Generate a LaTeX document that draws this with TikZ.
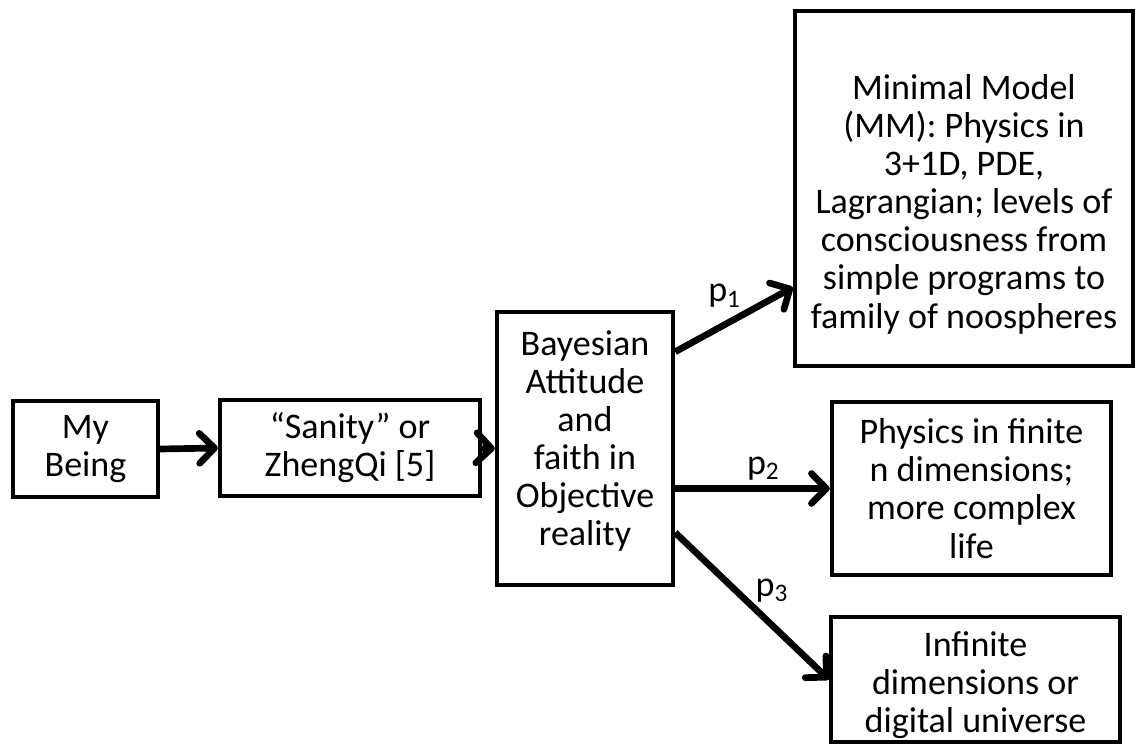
\documentclass[tikz,border=0pt]{standalone}
\usepackage{fontspec}
\setmainfont{Carlito}
\usetikzlibrary{arrows.meta}

\begin{document}
\begin{tikzpicture}[x=0.2mm,y=-0.2mm,
  box/.style={draw=black, line width=2.5pt, inner sep=0pt, align=center,
    font=\fontsize{20.5}{21.7}\selectfont},
  arr/.style={line width=3.8pt, -{Straight Barb[length=3mm,width=6mm,round]}},
  lbl/.style={inner sep=0pt, font=\fontsize{20.5}{21.7}\selectfont}]
\useasboundingbox (0,0) rectangle (1138,747);
% boxes
\node [box, minimum width=29mm, minimum height=19.2mm] (being) at (85.5,449) {My\\Being};
\node [box, minimum width=52mm, minimum height=19.2mm] (sanity) at (350,448) {``Sanity'' or\\ZhengQi [5]};
\node [box, minimum width=35.2mm, minimum height=54.6mm] (bayes) at (585,448.5) {Bayesian\\Attitude\\and\\faith in\\Objective\\reality\rule[-12pt]{0pt}{12pt}};
\node [box, minimum width=67.6mm, minimum height=71mm] (mm) at (964,188.5) {\rule{0pt}{32pt}Minimal Model\\(MM): Physics in\\3+1D, PDE,\\Lagrangian; levels of\\consciousness from\\simple programs to\\family of noospheres};
\node [box, minimum width=55.8mm, minimum height=34.6mm] (fin) at (971.5,488.5) {Physics in finite\\n dimensions;\\more complex\\life};
\node [box, minimum width=57.8mm, minimum height=25mm] (inf) at (975.5,679.5) {\rule{0pt}{21pt}Infinite\\dimensions or\\digital universe};
% arrows
\draw [arr] (being.east) -- (sanity.west);
\draw [arr] (sanity.east) -- (bayes.west);
\draw [arr] (bayes.47.6) -- (mm.210) node [lbl, pos=0.42, above=0.28cm] {p\textsubscript{1}};
\draw [arr] (bayes.east |- fin.west) -- (fin.west) node [lbl, pos=0.57, above=0.1cm] {p\textsubscript{2}};
\draw [arr] (bayes.-43.9) -- (inf.west) node [lbl, pos=0.63, above=0.4cm] {p\textsubscript{3}};
\end{tikzpicture}
\end{document}
